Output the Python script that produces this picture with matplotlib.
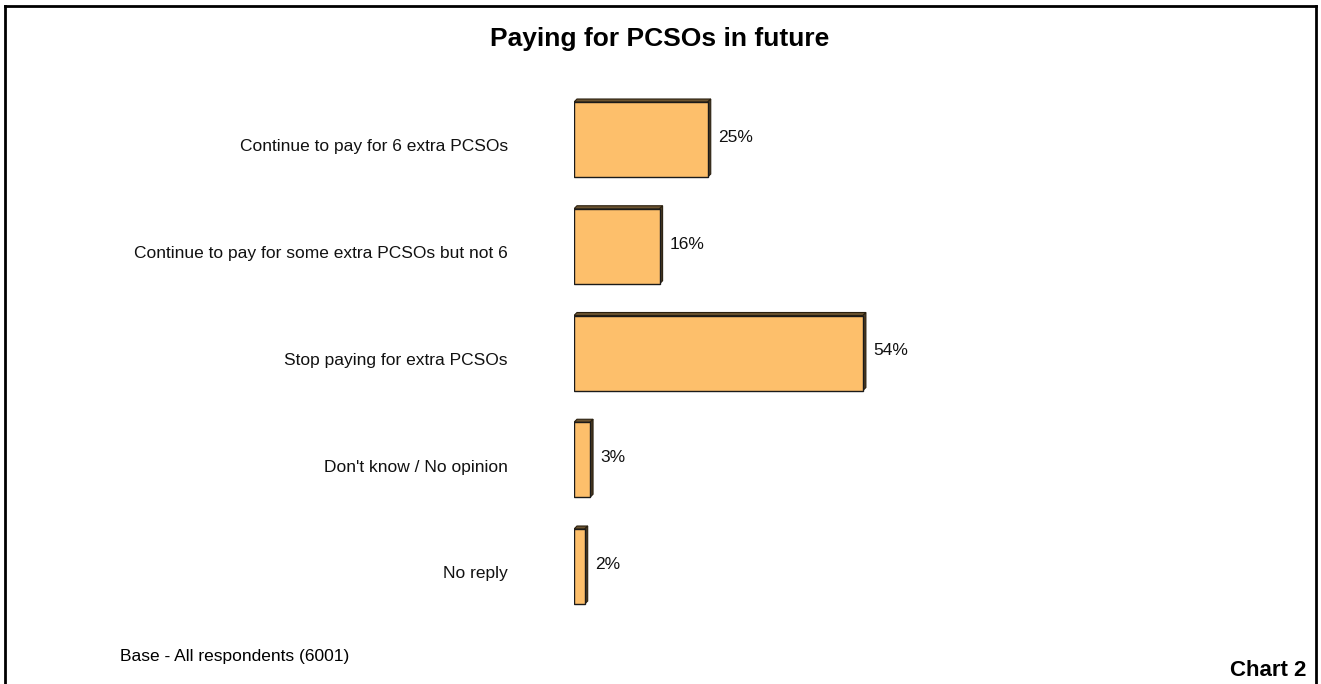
import matplotlib
matplotlib.use("Agg")
import matplotlib.pyplot as plt
from matplotlib.patches import Polygon
from matplotlib.lines import Line2D

categories = [
    "Continue to pay for 6 extra PCSOs",
    "Continue to pay for some extra PCSOs but not 6",
    "Stop paying for extra PCSOs",
    "Don't know / No opinion",
    "No reply",
]
values = [25, 16, 54, 3, 2]
value_labels = ["25%", "16%", "54%", "3%", "2%"]
title = "Paying for PCSOs in future"
base_note = "Base - All respondents (6001)"
chart_tag = "Chart 2"

W, H = 1321, 684
DPI = 100
plt.rcParams['font.family'] = ['Liberation Sans', 'DejaVu Sans']
fig = plt.figure(figsize=(W / DPI, H / DPI), dpi=DPI)

# axes placement in pixels
px_per_pct = 5.35
xmax = 60
ax_left = 574
ax_w = xmax * px_per_pct
row = 106.75
top_px = 139.5 - row * 0.5
bot_px = top_px + row * len(categories)
ax = fig.add_axes([ax_left / W, (H - bot_px) / H, ax_w / W, (bot_px - top_px) / H])
ax.set_xlim(0, xmax)
ax.set_ylim(len(categories) - 0.5, -0.5)
ax.axis('off')

face = '#FDBF6B'
side = '#4A3A22'
bar_h = 75 / row
depth_px = 3
dx = depth_px / px_per_pct
dy = depth_px / row

ys = list(range(len(categories)))
for y, v in zip(ys, values):
    top = y - bar_h / 2
    bot = y + bar_h / 2
    ax.add_patch(Polygon([(0, top), (v, top), (v + dx, top - dy), (dx, top - dy)],
                         closed=True, facecolor='#6B5330', edgecolor='#2A2010', lw=0.8, zorder=2))
    ax.add_patch(Polygon([(v, top), (v + dx, top - dy), (v + dx, bot - dy), (v, bot)],
                         closed=True, facecolor=side, edgecolor='#2A2010', lw=0.8, zorder=2))
ax.barh(ys, values, height=bar_h, color=face, edgecolor='#1A1A1A', linewidth=1.0, zorder=3)

fs = 12.5
for y, v, lab in zip(ys, values, value_labels):
    ax.text(v + dx + 7 / px_per_pct, y - 0.02, lab, ha='left', va='center', fontsize=fs, color='#111111')

for y, lab in zip(ys, categories):
    ax.text(-66 / px_per_pct, y + 0.07, lab, ha='right', va='center', fontsize=fs, color='#111111')

fig.text(660 / W, 1 - 39 / H, title, ha='center', va='center', fontsize=19, fontweight='bold')
fig.text(120 / W, 1 - 657 / H, base_note, ha='left', va='center', fontsize=fs)
fig.text(1306 / W, 1 - 670 / H, chart_tag, ha='right', va='center', fontsize=16, fontweight='bold')

# frame
lw = 2
fig.add_artist(Line2D([5 / W, 5 / W], [0, 1 - 6 / H], color='black', lw=lw, transform=fig.transFigure))
fig.add_artist(Line2D([5 / W, 1316 / W], [1 - 6 / H, 1 - 6 / H], color='black', lw=lw, transform=fig.transFigure))
fig.add_artist(Line2D([1316 / W, 1316 / W], [0, 1 - 6 / H], color='black', lw=lw, transform=fig.transFigure))

fig.savefig("out.png", dpi=DPI)
